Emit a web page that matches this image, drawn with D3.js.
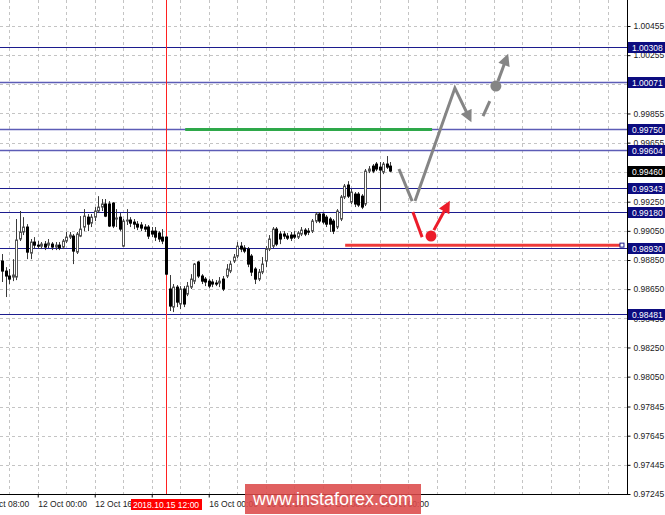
<!DOCTYPE html>
<html>
<head>
<meta charset="utf-8">
<script src="https://cdn.jsdelivr.net/npm/d3@7"></script>
<style>
  body { margin: 0; background: #fff; }
  svg { display: block; font-family: "Liberation Sans", Arial, sans-serif; }
</style>
</head>
<body>
<figure style="margin:0"></figure>
<script>
// hourly candles, bar 0 = 11 Oct 14:00
const opens  = [0.98843,0.98774,0.98740,0.98733,0.98733,0.98994,0.99042,0.99076,0.98897,0.98973,
  0.98952,0.98945,0.98959,0.98952,0.98959,0.98939,0.98952,0.98939,0.98980,0.99007,
  0.99014,0.98904,0.99014,0.99076,0.99144,0.99103,0.99144,0.99186,0.99213,0.99234,
  0.99234,0.99240,0.99131,0.99144,0.98945,0.99117,0.99124,0.99110,0.99096,0.99090,
  0.99076,0.99076,0.99048,0.99048,0.99035,0.99007,0.99007,0.98651,0.98527,0.98664,
  0.98548,0.98651,0.98616,0.98664,0.98705,0.98836,0.98740,0.98719,0.98705,0.98699,
  0.98692,0.98692,0.98719,0.98740,0.98774,0.98843,0.98877,0.98945,0.98932,0.98925,
  0.98877,0.98788,0.98719,0.98767,0.98843,0.98925,0.98945,0.99062,0.99028,0.99028,
  0.99014,0.99021,0.99021,0.99007,0.99028,0.99055,0.99048,0.99048,0.99117,0.99165,
  0.99165,0.99144,0.99131,0.99117,0.99076,0.99131,0.99282,0.99364,0.99247,0.99302,
  0.99302,0.99288,0.99234,0.99460,0.99494,0.99508,0.99487,0.99453,0.99508,0.99494];
const highs  = [0.98891,0.98801,0.98788,0.98856,0.99131,0.99186,0.99144,0.99096,0.98994,0.99007,
  0.98980,0.98973,0.98980,0.98994,0.98973,0.98973,0.98973,0.98994,0.99042,0.99042,
  0.99028,0.99042,0.99151,0.99199,0.99165,0.99165,0.99213,0.99288,0.99268,0.99268,
  0.99254,0.99247,0.99199,0.99172,0.99131,0.99199,0.99144,0.99131,0.99117,0.99110,
  0.99096,0.99090,0.99076,0.99076,0.99048,0.99062,0.99014,0.98747,0.98685,0.98678,
  0.98671,0.98671,0.98699,0.98753,0.98829,0.98843,0.98753,0.98733,0.98719,0.98719,
  0.98712,0.98733,0.98740,0.98822,0.98843,0.98891,0.98973,0.98973,0.98952,0.98939,
  0.98891,0.98801,0.98788,0.98870,0.98945,0.99021,0.99076,0.99076,0.99048,0.99048,
  0.99035,0.99042,0.99048,0.99048,0.99076,0.99069,0.99069,0.99131,0.99179,0.99179,
  0.99172,0.99158,0.99144,0.99131,0.99199,0.99295,0.99371,0.99391,0.99337,0.99316,
  0.99316,0.99302,0.99474,0.99494,0.99508,0.99522,0.99522,0.99522,0.99563,0.99522];
const lows   = [0.98699,0.98596,0.98685,0.98705,0.98712,0.98980,0.99021,0.98856,0.98856,0.98925,
  0.98925,0.98925,0.98918,0.98932,0.98918,0.98918,0.98918,0.98925,0.98966,0.98994,
  0.98822,0.98891,0.99007,0.99048,0.99048,0.99076,0.99117,0.99172,0.99186,0.99144,
  0.99076,0.99069,0.99076,0.99048,0.98939,0.99090,0.99076,0.99062,0.99055,0.99048,
  0.99042,0.98994,0.99007,0.98980,0.98973,0.98959,0.98747,0.98500,0.98493,0.98527,
  0.98513,0.98527,0.98602,0.98651,0.98685,0.98726,0.98685,0.98671,0.98657,0.98664,
  0.98671,0.98664,0.98637,0.98726,0.98760,0.98829,0.98863,0.98904,0.98897,0.98801,
  0.98740,0.98685,0.98705,0.98753,0.98801,0.98911,0.98932,0.98945,0.98959,0.98994,
  0.98987,0.98980,0.98994,0.98994,0.99014,0.99014,0.99021,0.99035,0.99103,0.99103,
  0.99096,0.99076,0.99042,0.99028,0.99062,0.99117,0.99268,0.99275,0.99234,0.99213,
  0.99213,0.99199,0.99220,0.99446,0.99446,0.99460,0.99186,0.99439,0.99474,0.99453];
const closes = [0.98774,0.98740,0.98719,0.98747,0.98987,0.99042,0.99076,0.98904,0.98973,0.98952,
  0.98945,0.98959,0.98939,0.98966,0.98939,0.98952,0.98932,0.98980,0.99007,0.99021,
  0.98911,0.99028,0.99062,0.99151,0.99096,0.99144,0.99186,0.99213,0.99234,0.99151,
  0.99083,0.99083,0.99138,0.99062,0.99117,0.99124,0.99103,0.99096,0.99076,0.99069,
  0.99062,0.99014,0.99028,0.99007,0.98994,0.98980,0.98753,0.98534,0.98664,0.98561,
  0.98651,0.98548,0.98671,0.98719,0.98822,0.98740,0.98705,0.98699,0.98671,0.98685,
  0.98685,0.98705,0.98651,0.98788,0.98822,0.98870,0.98945,0.98925,0.98911,0.98822,
  0.98767,0.98719,0.98767,0.98822,0.98925,0.98994,0.99062,0.98959,0.98994,0.99014,
  0.99000,0.99000,0.99007,0.99035,0.99055,0.99028,0.99042,0.99117,0.99165,0.99117,
  0.99110,0.99096,0.99096,0.99048,0.99186,0.99282,0.99357,0.99288,0.99316,0.99234,
  0.99227,0.99213,0.99460,0.99474,0.99460,0.99474,0.99467,0.99508,0.99487,0.99460];

const priceTicks = [1.00455,1.00255,1.00055,0.99855,0.99655,0.99455,0.99250,0.99050,0.98850,
  0.98650,0.98450,0.98250,0.98050,0.97845,0.97645,0.97445,0.97245];
const levels = [1.00308,1.00071,0.99750,0.99604,0.99343,0.99180,0.98930,0.98481];
const lightLevels = [1.00071,0.99750,0.99604];
const lastPrice = 0.99460;

// the 15 Oct 08:00 label sits under the marked-time box, so it is left blank
const timeTickBars = [-6,10,26,42,58,74,90,106];
const timeTickLabels = ['11 Oct 08:00','12 Oct 00:00','12 Oct 16:00','',
  '16 Oct 00:00','16 Oct 16:00','17 Oct 08:00','18 Oct 00:00'];
const markedBar = 46, markedLabel = '2018.10.15 12:00';

// drawn objects: [bar, price]
const greenLine = [[51.4,0.99745],[120.7,0.99745]];
const redLine = [[96.3,0.98952],[174,0.98952]];
const grayDown1 = [[111.4,0.99474],[115.1,0.99254]];
const grayUp = [[115.9,0.99254],[127.1,1.00029],[131.3,0.99817]];
const grayDash = [[135.0,0.99837],[136.9,0.99940]];
const grayDot = [138.6,1.00043];
const grayArrow = [[139.2,1.00077],[141.7,1.00242]];
const redDown = [[115.3,0.99179],[117.9,0.99007]];
const redDot = [120.4,0.99014];
const redArrow = [[121.2,0.99055],[125.2,0.99234]];

(() => {
  const width = 665, height = 515;
  const plotRight = 627, plotBottom = 494;

  const svg = d3.select('figure').append('svg')
    .attr('width', width).attr('height', height);

  const x = d3.scaleLinear().domain([0, 176]).range([2.1, 2.1 + 176 * 3.5625]);
  const y = d3.scaleLinear().domain([0.97245, 1.00455]).range([494, 26]);
  const px = v => Math.round(v) + 0.5;

  const defs = svg.append('defs');
  defs.append('clipPath').attr('id', 'clip')
    .append('rect').attr('width', plotRight).attr('height', plotBottom);
  function marker(id, color) {
    defs.append('marker').attr('id', id)
      .attr('viewBox', '0 0 10 10').attr('refX', 7).attr('refY', 5)
      .attr('markerWidth', 13).attr('markerHeight', 12)
      .attr('markerUnits', 'userSpaceOnUse').attr('orient', 'auto')
      .append('path').attr('d', 'M0,0L10,5L0,10z').attr('fill', color);
  }
  marker('headGray', '#858585');
  marker('headRed', '#ec1c2a');

  const g = svg.append('g').attr('clip-path', 'url(#clip)');

  // grid
  const gridBars = d3.range(2, 176, 8);
  g.selectAll('.vgrid').data(gridBars).join('line')
    .attr('x1', d => px(x(d))).attr('x2', d => px(x(d)))
    .attr('y1', 0).attr('y2', plotBottom)
    .attr('stroke', '#c4c4c4').attr('stroke-dasharray', '3,3');
  g.selectAll('.hgrid').data(priceTicks).join('line')
    .attr('x1', 0).attr('x2', plotRight)
    .attr('y1', d => px(y(d))).attr('y2', d => px(y(d)))
    .attr('stroke', '#c4c4c4').attr('stroke-dasharray', '3,3');

  // level lines
  g.selectAll('.level').data(levels).join('line')
    .attr('x1', 0).attr('x2', plotRight)
    .attr('y1', d => px(y(d))).attr('y2', d => px(y(d)))
    .attr('stroke', d => lightLevels.includes(d) ? '#5c5cb6' : '#1c1c8e')
    .attr('stroke-width', d => lightLevels.includes(d) ? 1.6 : 1);

  // marked time
  g.append('line')
    .attr('x1', px(x(markedBar))).attr('x2', px(x(markedBar)))
    .attr('y1', 0).attr('y2', plotBottom)
    .attr('stroke', '#ff2020');

  // candles
  const idx = d3.range(opens.length);
  const candle = g.selectAll('.candle').data(idx).join('g');
  candle.append('line')
    .attr('x1', i => px(x(i))).attr('x2', i => px(x(i)))
    .attr('y1', i => y(highs[i])).attr('y2', i => y(lows[i]))
    .attr('stroke', '#3a3a3a');
  candle.append('rect')
    .attr('x', i => px(x(i)) - 1)
    .attr('y', i => y(Math.max(opens[i], closes[i])))
    .attr('width', 2)
    .attr('height', i => Math.max(1, Math.abs(y(opens[i]) - y(closes[i]))))
    .attr('fill', i => closes[i] >= opens[i] ? '#ffffff' : '#000000')
    .attr('stroke', i => closes[i] >= opens[i] ? '#555' : '#000');

  const line = d3.line().x(d => x(d[0])).y(d => y(d[1]));

  // green and red horizontal objects
  g.append('path').attr('d', line(greenLine))
    .attr('stroke', '#2ea84a').attr('stroke-width', 3).attr('fill', 'none');
  g.append('path').attr('d', line(redLine))
    .attr('stroke', '#ee3a3a').attr('stroke-width', 3).attr('fill', 'none');
  g.append('rect')
    .attr('x', x(redLine[1][0]) - 2).attr('y', y(redLine[1][1]) - 2)
    .attr('width', 4).attr('height', 4)
    .attr('fill', '#fff').attr('stroke', '#1c1c8e');

  // scenario drawings
  const gray = '#858585', red = '#ec1c2a';
  g.append('path').attr('d', line(grayDown1))
    .attr('stroke', gray).attr('stroke-width', 3).attr('fill', 'none');
  g.append('path').attr('d', line(grayUp))
    .attr('stroke', gray).attr('stroke-width', 3).attr('fill', 'none')
    .attr('stroke-linejoin', 'miter').attr('marker-end', 'url(#headGray)');
  g.append('path').attr('d', line(grayDash))
    .attr('stroke', gray).attr('stroke-width', 3).attr('fill', 'none');
  g.append('circle').attr('cx', x(grayDot[0])).attr('cy', y(grayDot[1])).attr('r', 5.5)
    .attr('fill', gray);
  g.append('path').attr('d', line(grayArrow))
    .attr('stroke', gray).attr('stroke-width', 3).attr('fill', 'none')
    .attr('marker-end', 'url(#headGray)');

  g.append('path').attr('d', line(redDown))
    .attr('stroke', red).attr('stroke-width', 3).attr('fill', 'none');
  g.append('circle').attr('cx', x(redDot[0])).attr('cy', y(redDot[1])).attr('r', 5.5)
    .attr('fill', red);
  g.append('path').attr('d', line(redArrow))
    .attr('stroke', red).attr('stroke-width', 3).attr('fill', 'none')
    .attr('marker-end', 'url(#headRed)');

  // axes frame
  svg.append('line').attr('x1', plotRight + 0.5).attr('x2', plotRight + 0.5)
    .attr('y1', 0).attr('y2', plotBottom + 1).attr('stroke', '#000');
  svg.append('line').attr('x1', 0).attr('x2', plotRight + 1)
    .attr('y1', plotBottom + 0.5).attr('y2', plotBottom + 0.5).attr('stroke', '#000');

  // price axis
  const yAxis = d3.axisRight(y).tickValues(priceTicks).tickSize(3).tickPadding(3)
    .tickFormat(d3.format('.5f'));
  svg.append('g').attr('transform', `translate(${plotRight + 0.5},0)`)
    .call(yAxis)
    .call(s => s.select('.domain').remove())
    .call(s => s.selectAll('text').attr('font-size', 8.5).attr('fill', '#222')
      .attr('font-family', '"Liberation Sans", Arial, sans-serif'));

  // time axis
  const xAxis = d3.axisBottom(x).tickValues(timeTickBars).tickSize(3).tickPadding(3)
    .tickFormat((d, i) => timeTickLabels[i]);
  svg.append('g').attr('transform', `translate(0,${plotBottom + 0.5})`)
    .call(xAxis)
    .call(s => s.select('.domain').remove())
    .call(s => s.selectAll('text').attr('text-anchor', 'start').attr('x', 0)
      .attr('font-size', 8.5).attr('fill', '#222')
      .attr('font-family', '"Liberation Sans", Arial, sans-serif'));

  // level labels
  const lab = svg.selectAll('.lvlLabel').data(levels).join('g')
    .attr('transform', d => `translate(628,${Math.round(y(d))})`);
  lab.append('rect').attr('x', 0).attr('y', -5).attr('width', 37).attr('height', 11)
    .attr('fill', '#0c0c80');
  lab.append('text').attr('x', 4).attr('y', 4).attr('font-size', 8.5).attr('fill', '#fff')
    .text(d => d3.format('.5f')(d));

  const cur = svg.append('g').attr('transform', `translate(628,${Math.round(y(lastPrice))})`);
  cur.append('rect').attr('x', 0).attr('y', -5).attr('width', 37).attr('height', 11).attr('fill', '#000');
  cur.append('text').attr('x', 4).attr('y', 4).attr('font-size', 8.5).attr('fill', '#fff')
    .text(d3.format('.5f')(lastPrice));

  // marked time label
  const mx = Math.round(x(markedBar));
  svg.append('rect').attr('x', mx - 35).attr('y', 499).attr('width', 71).attr('height', 11)
    .attr('fill', '#ff0000');
  svg.append('text').attr('x', mx).attr('y', 508).attr('text-anchor', 'middle')
    .attr('font-size', 8.5).attr('fill', '#fff').text(markedLabel);

  // watermark
  svg.append('rect').attr('x', 245).attr('y', 484).attr('width', 176).attr('height', 30)
    .attr('fill', '#dc4a4a').attr('opacity', 0.88);
  svg.append('text').attr('x', 333).attr('y', 505).attr('text-anchor', 'middle')
    .attr('font-size', 18).attr('fill', '#fff').text('www.instaforex.com');
})();
</script>
</body>
</html>
